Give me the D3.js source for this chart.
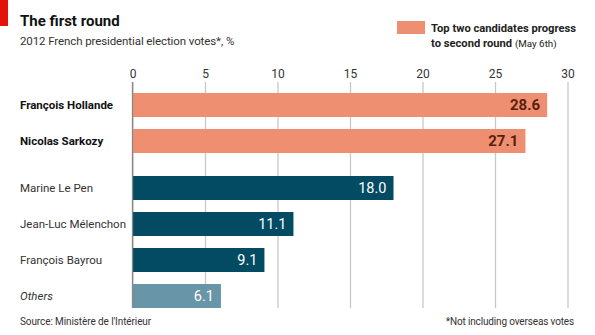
<!DOCTYPE html>
<html><head><meta charset="utf-8">
<script src="https://cdn.jsdelivr.net/npm/d3@7"></script>
<style>
body{margin:0;background:#fff;}
svg{display:block;font-family:Roboto,"Noto Sans",sans-serif;}
</style></head>
<body><svg id="c" width="595" height="335"></svg>
<script>
const candidates = ["François Hollande","Nicolas Sarkozy","Marine Le Pen","Jean-Luc Mélenchon","François Bayrou","Others"];
const votes = [28.6, 27.1, 18.0, 11.1, 9.1, 6.1];
const groups = ["top","top","rest","rest","rest","others"];
const ticks = [0,5,10,15,20,25,30];

const svg = d3.select("#c");
const colors = {top:"#ee8f72", rest:"#034a63", others:"#6895a8"};
const x = d3.scaleLinear().domain([0,30]).range([132.5,567.5]);
const y = d3.scaleBand().domain(candidates).range([93,297]).paddingInner(1/3).paddingOuter(0);
const gap = 11;
const bh = y.bandwidth();
const rowY = (c,i) => y(c) + (groups[i]==="top" ? 0 : gap);
const gridTop = 82, gridBot = rowY(candidates[5],5) + bh;

// red tab + titles
svg.append("rect").attr("x",0).attr("y",0).attr("width",8).attr("height",26).attr("fill","#e3120b");
svg.append("text").attr("x",20).attr("y",26).attr("font-size",15).attr("font-weight","bold").attr("fill","#111").text("The first round");
svg.append("text").attr("x",20).attr("y",45).attr("font-size",11.5).attr("letter-spacing",-0.1).attr("fill","#333").text("2012 French presidential election votes*, %");

// legend
svg.append("rect").attr("x",397).attr("y",21).attr("width",28).attr("height",13).attr("fill",colors.top);
svg.append("text").attr("x",431).attr("y",32).attr("font-size",11.2).attr("font-weight","bold").attr("fill","#222").text("Top two candidates progress");
const l2 = svg.append("text").attr("x",431).attr("y",47).attr("font-size",11.2).attr("font-weight","bold").attr("fill","#222");
l2.append("tspan").text("to second round ");
l2.append("tspan").attr("font-size",9.8).attr("font-weight","normal").text("(May 6th)");

// axis / grid
const axis = d3.axisTop(x).tickValues(ticks).tickSize(-(gridBot-gridTop)).tickFormat(d3.format("d"));
const ag = svg.append("g").attr("transform",`translate(0,${gridTop})`).call(axis);
ag.select(".domain").remove();
ag.selectAll(".tick line").attr("stroke","#c8c8c8").attr("stroke-width",1.3);
ag.selectAll(".tick text").attr("font-size",12).attr("fill","#333").attr("font-family","Roboto,sans-serif").attr("dy","-0.1em");

const bars = svg.append("g");
candidates.forEach((c,i)=>{
  const yy = rowY(c,i);
  const top = groups[i]==="top";
  bars.append("rect").attr("x",x(0)).attr("y",yy).attr("width",x(votes[i])-x(0)).attr("height",bh).attr("fill",colors[groups[i]]);
  bars.append("text").attr("x",x(votes[i])-7).attr("y",yy+bh/2).attr("dy","0.36em")
    .attr("text-anchor","end").attr("font-size",top?15:14.5).attr("font-weight",top?"bold":"normal")
    .attr("fill",top?"#5a1f0c":"#fff").text(votes[i].toFixed(1));
  bars.append("text").attr("x",20).attr("y",yy+bh/2).attr("dy","0.36em").attr("font-size",11.5)
    .attr("font-weight",top?"bold":"normal").attr("font-style",groups[i]==="others"?"italic":"normal")
    .attr("fill",top?"#111":"#333").text(c);
});
// zero line
svg.append("line").attr("x1",x(0)).attr("x2",x(0)).attr("y1",gridTop).attr("y2",gridBot).attr("stroke","#888").attr("stroke-width",1.3);

svg.append("text").attr("x",20).attr("y",325).attr("font-size",10).attr("letter-spacing",-0.1).attr("fill","#333").text("Source: Ministère de l'Intérieur");
svg.append("text").attr("x",574).attr("y",325).attr("text-anchor","end").attr("font-size",10).attr("letter-spacing",-0.15).attr("fill","#333").text("*Not including overseas votes");
</script></body></html>
